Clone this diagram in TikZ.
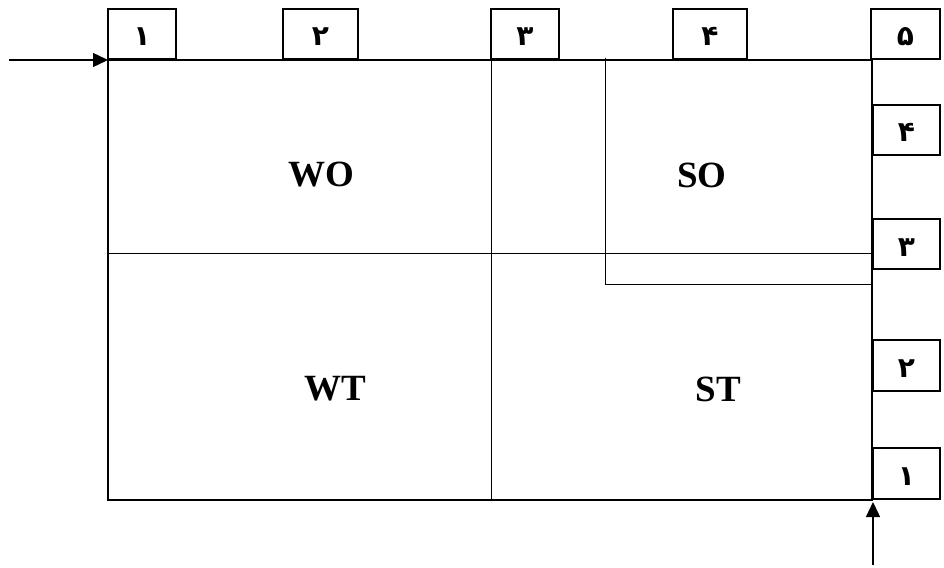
\documentclass[tikz,border=0pt]{standalone}
\usepackage{fontspec}
\setmainfont{Liberation Serif}
\newfontfamily\arabicfont[Script=Arabic]{DejaVu Sans}
\usetikzlibrary{arrows.meta}
\newcommand{\digit}[1]{\raisebox{-12pt}[0pt][0pt]{#1}}
\tikzset{
  numbox/.style={draw, line width=1.8pt, inner sep=0pt, minimum height=50pt, font=\arabicfont\bfseries\fontsize{28}{28}\selectfont},
  zone/.style={inner sep=0pt, font=\bfseries\fontsize{37}{37}\selectfont},
  frame/.style={line width=1.9pt},
  divider/.style={line width=1pt},
  feed/.style={line width=1.4pt, -{Triangle[length=15pt, width=14pt]}}
}
\begin{document}
\begin{tikzpicture}[x=1pt,y=1pt,yscale=-1,xscale=1]
\useasboundingbox (0,0) rectangle (944,567);

%Corners of the frame
\coordinate (nw) at (108,60);
\coordinate (ne) at (872,60);
\coordinate (sw) at (108,500);
\coordinate (se) at (872,500);

%Dividers
\draw [divider] (491,60) -- (491,500) ;
\draw [divider] (108,253) -- (872,253) ;
\draw [divider] (605,58) -- (605,284) -- (873,284) ;

%Frame
\draw [frame] (ne) -- (nw) -- (sw) -- (se) -- (ne) ;

%Top boxes
\node [numbox, minimum width=68pt] (t1) at (142,34) {\digit{١}};
\node [numbox, minimum width=75pt] (t2) at (320.5,34) {\digit{٢}};
\node [numbox, minimum width=68pt] (t3) at (525,34) {\digit{٣}};
\node [numbox, minimum width=74pt] (t4) at (710,34) {\digit{۴}};
\node [numbox, minimum width=69pt] (t5) at (905.5,34) {\digit{۵}};

%Right boxes
\node [numbox, minimum width=67pt] (r4) at (906.5,130) {\digit{۴}};
\node [numbox, minimum width=67pt] (r3) at (906.5,244) {\digit{٣}};
\node [numbox, minimum width=67pt, minimum height=51pt] (r2) at (906.5,365.5) {\digit{٢}};
\node [numbox, minimum width=67pt, minimum height=51pt] (r1) at (906.5,473.5) {\digit{١}};

%Feed arrows
\coordinate (inW) at (9,60);
\coordinate (inS) at (873,565);
\coordinate (tipS) at (873,502);
\draw [feed] (inW) -- (nw) ;
\draw [feed] (inS) -- (tipS) ;

% Text Node
\node [zone] (wo) at (321.5,175) {WO};
\node [zone] (so) at (702,175) {SO};
\node [zone] (wt) at (335,389) {WT};
\node [zone] (st) at (718.5,389.5) {ST};

\end{tikzpicture}
\end{document}
